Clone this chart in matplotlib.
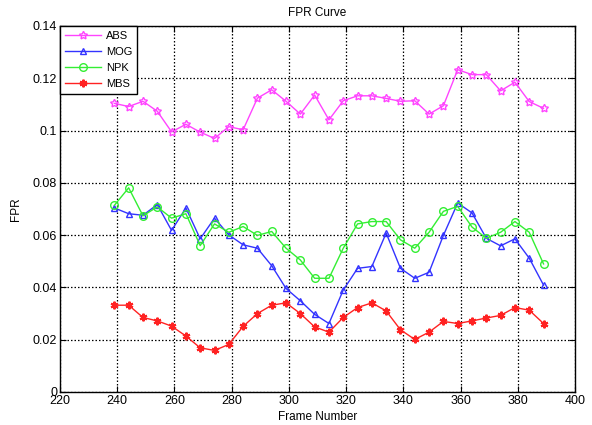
import matplotlib
matplotlib.use('Agg')
import matplotlib.pyplot as plt

plt.rcParams['font.family'] = ['Liberation Sans Narrow', 'Liberation Sans', 'DejaVu Sans']

# номера кадров: 239, 244, ..., 389
frames = list(range(239, 390, 5))

abs_fpr = [0.1104, 0.1092, 0.1112, 0.1074, 0.0995, 0.1024, 0.0994, 0.0970, 0.1015, 0.1003,
           0.1124, 0.1156, 0.1112, 0.1063, 0.1136, 0.1041, 0.1114, 0.1133, 0.1133, 0.1123,
           0.1112, 0.1114, 0.1063, 0.1095, 0.1233, 0.1214, 0.1214, 0.1152, 0.1185, 0.1111,
           0.1085]
mog_fpr = [0.0704, 0.0682, 0.0676, 0.0717, 0.0618, 0.0704, 0.0586, 0.0665, 0.0601, 0.0563,
           0.0550, 0.0483, 0.0396, 0.0349, 0.0297, 0.0262, 0.0390, 0.0473, 0.0480, 0.0608,
           0.0473, 0.0435, 0.0458, 0.0599, 0.0723, 0.0685, 0.0588, 0.0559, 0.0586, 0.0512,
           0.0409]
npk_fpr = [0.0714, 0.0781, 0.0674, 0.0708, 0.0665, 0.0682, 0.0560, 0.0643, 0.0611, 0.0633,
           0.0599, 0.0614, 0.0550, 0.0505, 0.0435, 0.0435, 0.0550, 0.0643, 0.0652, 0.0652,
           0.0582, 0.0550, 0.0611, 0.0691, 0.0710, 0.0631, 0.0588, 0.0611, 0.0652, 0.0611,
           0.0490]
mbs_fpr = [0.0332, 0.0332, 0.0285, 0.0272, 0.0252, 0.0214, 0.0169, 0.0159, 0.0182, 0.0251,
           0.0300, 0.0332, 0.0341, 0.0300, 0.0249, 0.0229, 0.0285, 0.0323, 0.0341, 0.0310,
           0.0238, 0.0201, 0.0229, 0.0270, 0.0262, 0.0272, 0.0283, 0.0293, 0.0323, 0.0313,
           0.0262]

fig = plt.figure(figsize=(5.92, 4.25), dpi=100)
ax = fig.add_axes([60 / 592, 1 - 392 / 425, 515 / 592, 366 / 425])

ax.plot(frames, abs_fpr, color='#ff44ff', lw=1, marker=(5, 1, 0), ms=6,
        mfc='none', mew=1, label='ABS')
ax.plot(frames, mog_fpr, color='#3333ff', lw=1, marker='^', ms=5,
        mfc='none', mew=1, label='MOG')
ax.plot(frames, npk_fpr, color='#33ee33', lw=1, marker='o', ms=5.5,
        mfc='none', mew=1, label='NPK')
ax.plot(frames, mbs_fpr, color='#ff2222', lw=1, marker=(6, 2, 0), ms=5.5,
        mew=1.5, label='MBS')

ax.set_xlim(220, 400)
ax.set_ylim(0, 0.14)
ax.set_xticks(range(220, 401, 20))
ax.set_yticks([0, 0.02, 0.04, 0.06, 0.08, 0.1, 0.12, 0.14])
ax.set_yticklabels(['0', '0.02', '0.04', '0.06', '0.08', '0.1', '0.12', '0.14'])
ax.grid(True, color='black', linestyle=(0, (1.2, 1.6)), lw=0.9)
ax.tick_params(direction='in', top=True, right=True, labelsize=9, length=4, pad=2)
for s in ax.spines.values():
    s.set_linewidth(1)

ax.set_title('FPR Curve', fontsize=8.5, pad=7)
ax.set_xlabel('Frame Number', fontsize=8.5, labelpad=3)
ax.set_ylabel('FPR', fontsize=8.5, labelpad=8)

leg = ax.legend(loc='upper left', fontsize=8, fancybox=False, edgecolor='black',
                framealpha=1, borderaxespad=0, handlelength=3.2, handletextpad=0.5,
                borderpad=0.45, labelspacing=0.55)
leg.get_frame().set_linewidth(1)

fig.savefig('out.png', dpi=100)
